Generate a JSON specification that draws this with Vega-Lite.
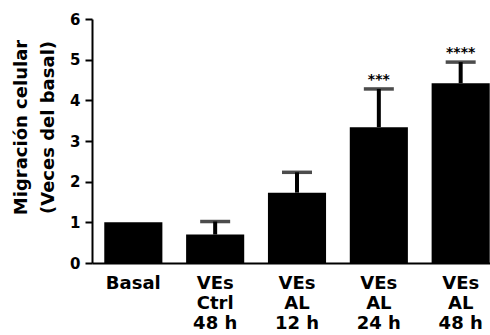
{
  "$schema": "https://vega.github.io/schema/vega-lite/v6.json",
  "autosize": "none",
  "padding": {"left": 92, "top": 19, "right": 0, "bottom": 72},
  "width": 410,
  "height": 244,
  "background": "white",
  "config": {"view": {"stroke": null}, "font": "DejaVu Sans"},
  "data": {"values": [
    {"label": "Basal", "mean": 1.0, "upper": null, "sig": ""},
    {"label": "VEs|Ctrl|48 h", "mean": 0.70, "upper": 1.02, "sig": ""},
    {"label": "VEs|AL|12 h", "mean": 1.73, "upper": 2.23, "sig": ""},
    {"label": "VEs|AL|24 h", "mean": 3.34, "upper": 4.28, "sig": "***"},
    {"label": "VEs|AL|48 h", "mean": 4.42, "upper": 4.94, "sig": "****"}
  ]},
  "encoding": {
    "x": {
      "field": "label", "type": "nominal", "sort": null,
      "scale": {"paddingInner": 0.29, "paddingOuter": 0.15},
      "axis": {
        "title": null, "labelAngle": 0, "ticks": false,
        "labelExpr": "split(datum.label, '|')",
        "labelFont": "DejaVu Sans", "labelFontWeight": "bold", "labelFontSize": 18,
        "labelColor": "black", "labelLineHeight": 20, "labelPadding": 11,
        "domainColor": "black", "domainWidth": 2, "labelBaseline": "top"
      }
    }
  },
  "layer": [
    {
      "mark": {"type": "bar", "color": "black"},
      "encoding": {
        "y": {
          "field": "mean", "type": "quantitative",
          "scale": {"domain": [0, 6], "nice": false},
          "axis": {
            "values": [0, 1, 2, 3, 4, 5, 6], "grid": false,
            "title": ["Migración celular", "(Veces del basal)"],
            "titleFont": "DejaVu Sans", "titleFontWeight": "bold", "titleFontSize": 18,
            "titleColor": "black", "titleLineHeight": 27,
            "titleAngle": -90, "titleAlign": "center", "titleBaseline": "top",
            "titleX": -80, "titleY": 108,
            "labelFont": "DejaVu Sans", "labelFontWeight": "bold", "labelFontSize": 15,
            "labelColor": "black", "labelPadding": 5,
            "tickColor": "black", "tickWidth": 2, "tickSize": 7,
            "domainColor": "black", "domainWidth": 2
          }
        }
      }
    },
    {
      "mark": {"type": "rule", "color": "black", "strokeWidth": 4},
      "transform": [{"filter": "datum.upper != null"}],
      "encoding": {
        "y": {"field": "mean", "type": "quantitative"},
        "y2": {"field": "upper"}
      }
    },
    {
      "mark": {"type": "tick", "color": "black", "size": 30, "thickness": 3.5, "orient": "horizontal"},
      "transform": [{"filter": "datum.upper != null"}],
      "encoding": {
        "y": {"field": "upper", "type": "quantitative"}
      }
    },
    {
      "mark": {"type": "text", "color": "black", "fontSize": 14, "fontWeight": "bold", "baseline": "alphabetic", "dy": -5, "font": "DejaVu Sans"},
      "transform": [{"filter": "datum.upper != null"}],
      "encoding": {
        "y": {"field": "upper", "type": "quantitative"},
        "text": {"field": "sig"}
      }
    }
  ]
}
